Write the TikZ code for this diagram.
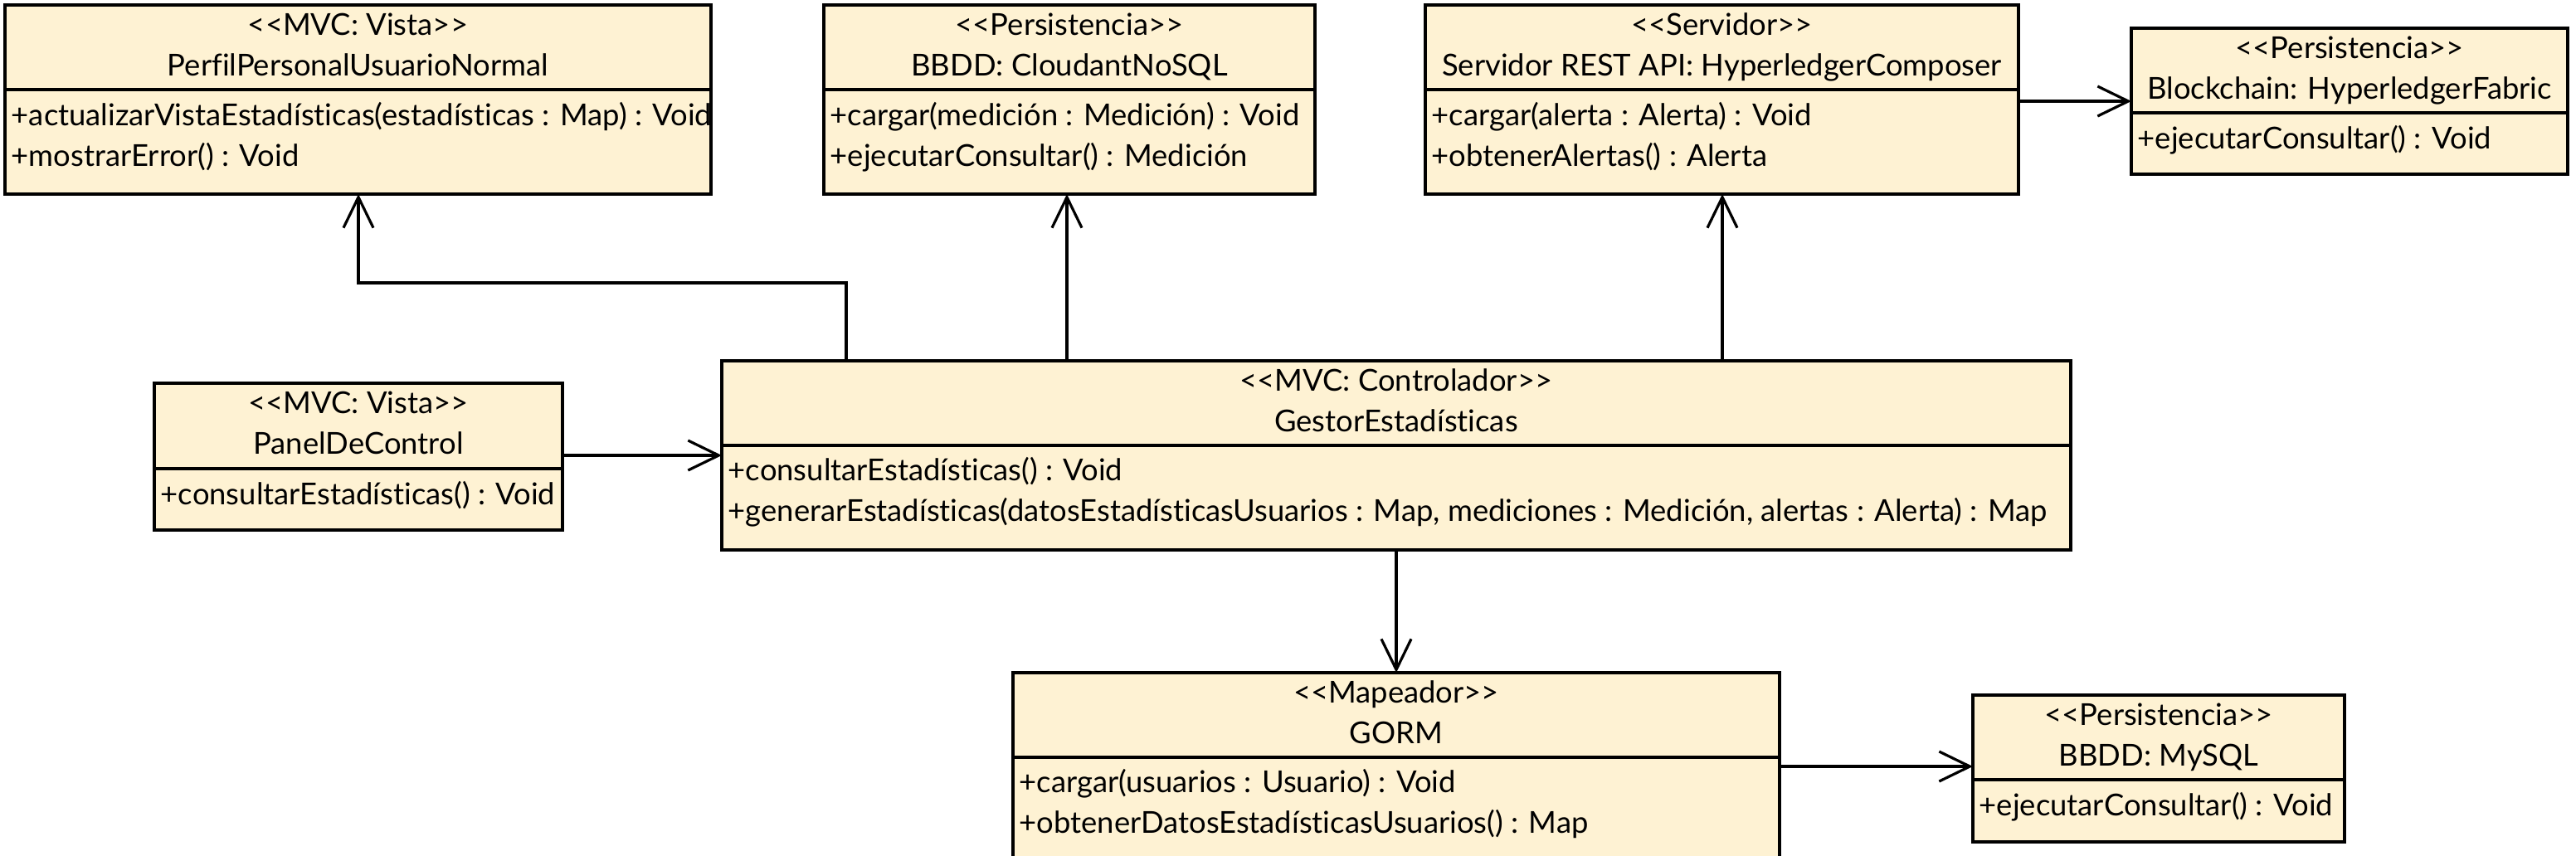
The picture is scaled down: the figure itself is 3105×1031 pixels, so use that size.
\documentclass[tikz,border=0pt]{standalone}
\usepackage{fontspec}
\newfontfamily\umlfont{Lato}[Ligatures=NoCommon]
\usetikzlibrary{arrows.meta}
\definecolor{classfill}{RGB}{254,242,211}
\tikzset{
  umlbox/.style={draw=black, fill=classfill, line width=1pt, inner sep=0pt, outer sep=0pt, anchor=north west},
  sepline/.style={draw=black, line width=1pt},
  umltext/.style={font=\umlfont\fontsize{9.1pt}{10pt}\selectfont, inner sep=0pt, text=black},
  headtext/.style={umltext, anchor=base},
  optext/.style={umltext, anchor=base west},
  assoc/.style={draw=black, line width=0.8pt, -{Straight Barb[length=9.25pt,width=9pt]}},
}
% id, x1, T, x2, B, S
\newcommand\umlclass[6]{%
  \node[umlbox, minimum width={(#4-#2)*0.25pt}, minimum height={(#5-#3)*0.25pt}] (#1) at (#2,#3) {};
  \draw[sepline] (#2,#6) -- (#4,#6);
}
% id, x1, x2, T, stereo, name
\newcommand\umlhead[6]{%
  \node[headtext] (#1-st) at ({(#2+#3)/2},{#4+36}) {#5};
  \node[headtext] (#1-nm) at ({(#2+#3)/2},{#4+85}) {#6};
}
\begin{document}
\begin{tikzpicture}[x=0.25pt, y=-0.25pt]
\useasboundingbox (0,0) rectangle (3105,1031);
\clip (0,0) rectangle (3105,1031);

% PerfilPersonalUsuarioNormal
\umlclass{perfil}{6}{6}{857}{234}{108}
\umlhead{perfil}{6}{857}{6}{<<MVC: Vista>>}{PerfilPersonalUsuarioNormal}
\node[optext] (perfil-op1) at (13,151) {+actualizarVistaEstadísticas(estadísticas : Map) : Void};
\node[optext] (perfil-op2) at (13,200) {+mostrarError() : Void};

% Cloudant
\umlclass{cloudant}{993}{6}{1585}{234}{108}
\umlhead{cloudant}{993}{1585}{6}{<<Persistencia>>}{BBDD: CloudantNoSQL}
\node[optext] (cloudant-op1) at (1000,151) {+cargar(medición : Medición) : Void};
\node[optext] (cloudant-op2) at (1000,200) {+ejecutarConsultar() : Medición};

% Servidor
\umlclass{servidor}{1718}{6}{2433}{234}{108}
\umlhead{servidor}{1718}{2433}{6}{<<Servidor>>}{Servidor REST API: HyperledgerComposer}
\node[optext] (servidor-op1) at (1725,151) {+cargar(alerta : Alerta) : Void};
\node[optext] (servidor-op2) at (1725,200) {+obtenerAlertas() : Alerta};

% Blockchain
\umlclass{blockchain}{2569}{34}{3095}{210}{136}
\umlhead{blockchain}{2569}{3095}{34}{<<Persistencia>>}{Blockchain: HyperledgerFabric}
\node[optext] (blockchain-op1) at (2576,179) {+ejecutarConsultar() : Void};

% PanelDeControl
\umlclass{panel}{186}{462}{678}{639}{565}
\umlhead{panel}{186}{678}{462}{<<MVC: Vista>>}{PanelDeControl}
\node[optext] (panel-op1) at (193,608) {+consultarEstadísticas() : Void};

% GestorEstadisticas
\umlclass{gestor}{870}{435}{2496}{663}{537}
\umlhead{gestor}{870}{2496}{435}{<<MVC: Controlador>>}{GestorEstadísticas}
\node[optext] (gestor-op1) at (877,579) {+consultarEstadísticas() : Void};
\node[optext] (gestor-op2) at (877,628) {+generarEstadísticas(datosEstadísticasUsuarios : Map, mediciones : Medición, alertas : Alerta) : Map};

% GORM
\umlclass{gorm}{1221}{811}{2145}{1039}{913}
\umlhead{gorm}{1221}{2145}{811}{<<Mapeador>>}{GORM}
\node[optext] (gorm-op1) at (1228,955) {+cargar(usuarios : Usuario) : Void};
\node[optext] (gorm-op2) at (1228,1004) {+obtenerDatosEstadísticasUsuarios() : Map};

% MySQL
\umlclass{mysql}{2378}{838}{2826}{1015}{940}
\umlhead{mysql}{2378}{2826}{838}{<<Persistencia>>}{BBDD: MySQL}
\node[optext] (mysql-op1) at (2385,983) {+ejecutarConsultar() : Void};

% connectors
\coordinate (bendA) at (1020,341);
\coordinate (bendB) at (432,341);
\draw[assoc] (1020,0 |- gestor.north) -- (bendA) -- (bendB) -- (432,0 |- perfil.south);
\draw[assoc] (1286,0 |- gestor.north) -- (1286,0 |- cloudant.south);
\draw[assoc] (2076,0 |- gestor.north) -- (2076,0 |- servidor.south);
\draw[assoc] (servidor.east |- 0,122) -- (blockchain.west |- 0,122);
\draw[assoc] (panel.east |- 0,549) -- (gestor.west |- 0,549);
\draw[assoc] (1683,0 |- gestor.south) -- (1683,0 |- gorm.north);
\draw[assoc] (gorm.east |- 0,924) -- (mysql.west |- 0,924);
\end{tikzpicture}
\end{document}
